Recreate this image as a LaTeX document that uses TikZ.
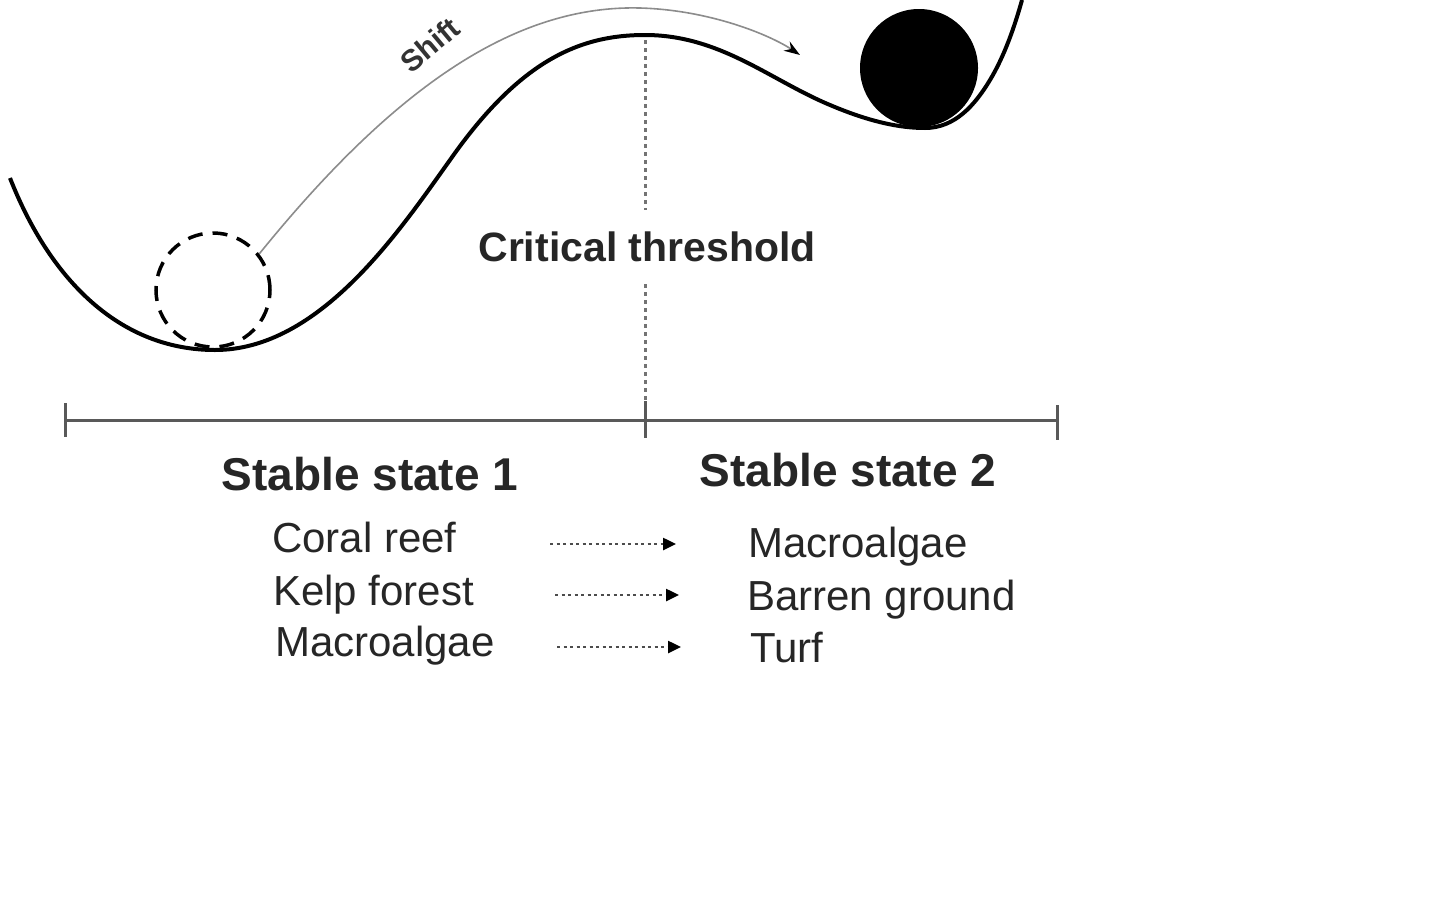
\documentclass[tikz,border=0pt]{standalone}
\usepackage{fontspec}
\setmainfont{Liberation Sans}
\usetikzlibrary{arrows.meta}
\begin{document}
\begin{tikzpicture}[x=1pt,y=-1pt,
  txt/.style={text=black!85,inner sep=0pt,anchor=base west,font=\fontsize{42}{46}\selectfont},
  head/.style={text=black!85,inner sep=0pt,anchor=base,font=\bfseries\fontsize{46}{50}\selectfont},
  landscape/.style={line width=4pt,black},
  axis/.style={line width=3pt,black!65},
  thresh/.style={line width=3pt,black!55,dash pattern=on 4pt off 4pt},
  shiftarrow/.style={line width=1.6pt,black!45,-{Stealth[length=16pt,width=11pt,black]}},
  trans/.style={line width=2.5pt,black!70,dash pattern=on 3pt off 3.5pt,-{Triangle[length=13pt,width=12pt,black]}}
]
\useasboundingbox (0,0) rectangle (1440,908);
\fill[white] (0,0) rectangle (1440,908);

% landscape curve
\draw[landscape] (10,178) .. controls (50,280) and (120,350) .. (215,350)
  .. controls (320,350) and (400,230) .. (450,160)
  .. controls (520,60) and (580,35) .. (645,35)
  .. controls (720,35) and (770,80) .. (830,105)
  .. controls (870,122) and (900,128) .. (925,128)
  .. controls (955,128) and (975,105) .. (990,80)
  .. controls (1005,55) and (1015,25) .. (1022,0);

% balls
\node (ball1) [circle,draw,line width=3.5pt,dash pattern=on 15pt off 10pt,minimum size=114pt,inner sep=0pt] at (213,290) {};
\node (ball2) [circle,fill=black,minimum size=118pt,inner sep=0pt] at (919,68) {};

% shift arrow
\coordinate (shiftend) at (800,55);
\draw[shiftarrow] (ball1.38) .. controls (400,80) and (520,5) .. (640,8)
  .. controls (710,10) and (770,35) .. (shiftend);
\node (shift) [text=black!80,inner sep=0pt,font=\bfseries\fontsize{30}{34}\selectfont,rotate=40] at (430,45) {Shift};

% threshold
\node (crit) [head,font=\bfseries\fontsize{41}{46}\selectfont] at (647,261) {Critical threshold};
\coordinate (ttop) at (645,40);
\coordinate (tbot) at (645,436);
\draw[thresh] (ttop) -- (645,210);
\draw[thresh] (645,284) -- (tbot);

% axis
\coordinate (aL) at (65,420);
\coordinate (aR) at (1057,420);
\draw[axis] (aL) -- (aR);
\draw[axis] (65,403) -- (65,437);
\draw[axis] (645,401) -- (645,438);
\draw[axis] (1057,405) -- (1057,440);

% states
\node (s1) [head] at (370,490) {Stable state 1};
\node (s2) [head] at (848,486) {Stable state 2};

\node (l1) [txt] at (272,552) {Coral reef};
\node (l2) [txt] at (273,605) {Kelp forest};
\node (l3) [txt] at (275,656) {Macroalgae};
\node (r1) [txt] at (748,557) {Macroalgae};
\node (r2) [txt] at (747,610) {Barren ground};
\node (r3) [txt] at (750,662) {Turf};

\coordinate (a1s) at (550,544); \coordinate (a1e) at (676,544);
\coordinate (a2s) at (555,595); \coordinate (a2e) at (679,595);
\coordinate (a3s) at (557,647); \coordinate (a3e) at (681,647);
\draw[trans] (a1s) -- (a1e);
\draw[trans] (a2s) -- (a2e);
\draw[trans] (a3s) -- (a3e);
\end{tikzpicture}
\end{document}
